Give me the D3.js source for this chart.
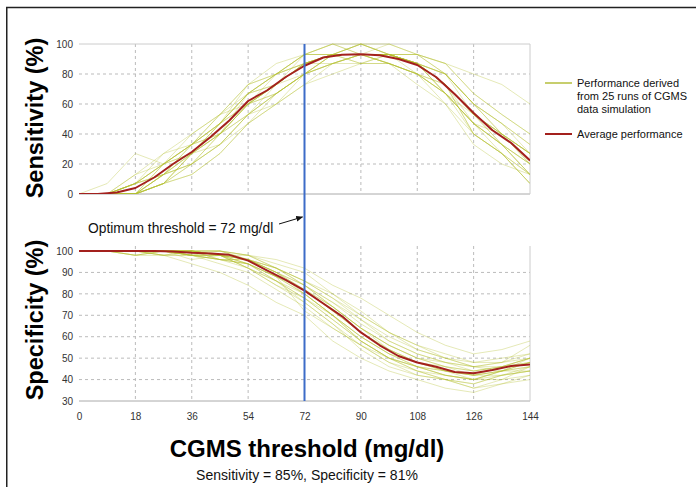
<!DOCTYPE html>
<html>
<head>
<meta charset="utf-8">
<script src="https://cdn.jsdelivr.net/npm/d3@7"></script>
<style>
  body { margin: 0; background: white; }
  svg { font-family: "Liberation Sans", Arial, Helvetica, sans-serif; }
</style>
</head>
<body>
<svg width="696" height="487"></svg>
<script>
// thresholds (mg/dl) used by the individual simulation runs
const runThresholds = [0, 9, 18, 27, 36, 45, 54, 63, 72, 81, 90, 99, 108, 117, 126, 135, 144]
// thresholds used by the average curve
const avgThresholds = [0, 6, 12, 18, 24, 30, 36, 42, 48, 54, 60, 66, 72, 78, 84, 90, 96, 102, 108, 114, 120, 126, 132, 138, 144]

const sensitivityAverage = [0, 0, 1, 4, 11, 20, 28, 38, 49, 62, 69, 78, 85.5, 91, 92.8, 93.2, 92.5, 90, 86, 78, 66.5, 54, 42.5, 34, 22.4]
const specificityAverage = [100, 100, 100, 100, 100, 99.8, 99.2, 98.8, 98.2, 95.5, 91, 86.5, 81.5, 75.5, 69.5, 62, 56, 51, 48, 46, 43.5, 43, 44.5, 46.3, 47]

const sensitivityRuns = [
    [0, 0, 0, 13, 27, 40, 60, 73, 87, 93, 93, 93, 87, 80, 60, 40, 20],
    [0, 0, 7, 20, 33, 47, 67, 80, 93, 100, 100, 93, 87, 73, 47, 33, 13],
    [0, 0, 0, 7, 20, 33, 53, 67, 80, 87, 93, 93, 87, 73, 53, 40, 27],
    [0, 0, 13, 27, 40, 53, 67, 73, 87, 93, 93, 87, 80, 67, 47, 33, 20],
    [0, 0, 0, 7, 13, 27, 47, 60, 73, 87, 93, 100, 93, 80, 60, 47, 33],
    [0, 0, 7, 13, 27, 47, 67, 80, 93, 93, 100, 93, 87, 73, 40, 27, 7],
    [0, 7, 27, 20, 33, 40, 53, 67, 80, 93, 87, 87, 80, 67, 53, 40, 20],
    [0, 0, 0, 13, 20, 40, 60, 73, 87, 93, 93, 87, 80, 60, 33, 20, 13],
    [0, 0, 7, 20, 27, 33, 53, 60, 73, 80, 87, 93, 93, 87, 67, 53, 40],
    [0, 0, 0, 7, 27, 47, 67, 80, 93, 100, 93, 93, 87, 80, 53, 33, 13],
    [0, 0, 0, 20, 40, 53, 73, 87, 93, 93, 93, 87, 73, 60, 40, 27, 13],
    [0, 0, 7, 13, 20, 33, 47, 60, 80, 87, 93, 93, 93, 80, 60, 47, 27],
    [0, 0, 0, 7, 27, 40, 60, 67, 80, 93, 100, 100, 93, 87, 67, 53, 40],
    [0, 0, 0, 13, 33, 53, 73, 80, 87, 93, 93, 87, 80, 67, 47, 27, 7],
    [0, 0, 7, 27, 33, 47, 60, 73, 87, 87, 87, 93, 87, 73, 53, 40, 27],
    [0, 0, 0, 7, 13, 27, 47, 67, 80, 93, 93, 93, 87, 80, 60, 47, 33],
    [0, 0, 13, 20, 33, 47, 60, 73, 87, 93, 100, 93, 87, 67, 40, 27, 13],
    [0, 0, 0, 13, 27, 40, 53, 73, 93, 100, 93, 87, 80, 73, 53, 40, 27],
    [0, 0, 7, 13, 20, 40, 60, 80, 87, 93, 93, 93, 93, 87, 80, 73, 60],
    [0, 0, 0, 7, 27, 40, 67, 73, 80, 87, 93, 93, 87, 67, 47, 33, 20],
    [0, 0, 0, 20, 27, 47, 73, 80, 87, 93, 93, 93, 87, 73, 40, 27, 7],
    [0, 0, 7, 20, 33, 40, 60, 67, 80, 87, 93, 93, 87, 80, 60, 40, 27],
    [0, 0, 0, 13, 33, 53, 60, 73, 87, 93, 87, 87, 80, 73, 53, 33, 20],
    [0, 0, 0, 7, 20, 33, 53, 67, 80, 93, 100, 93, 87, 67, 47, 33, 13],
    [0, 0, 7, 20, 33, 47, 67, 80, 93, 93, 93, 93, 80, 67, 47, 40, 27]
]

const specificityRuns = [
    [100, 100, 100, 100, 98, 98, 96, 90, 82, 74, 64, 56, 50, 46, 42, 44, 46],
    [100, 100, 100, 98, 100, 96, 94, 86, 78, 70, 60, 52, 46, 42, 40, 44, 50],
    [100, 100, 98, 100, 100, 100, 98, 92, 86, 78, 68, 58, 52, 48, 46, 48, 52],
    [100, 100, 100, 100, 96, 98, 92, 84, 76, 66, 56, 48, 42, 40, 38, 42, 44],
    [100, 100, 100, 100, 100, 98, 96, 92, 86, 80, 70, 62, 56, 50, 46, 44, 48],
    [100, 100, 100, 98, 98, 94, 90, 82, 74, 64, 56, 50, 46, 44, 40, 40, 42],
    [100, 100, 100, 100, 100, 100, 98, 96, 92, 84, 78, 70, 62, 56, 52, 54, 58],
    [100, 100, 98, 100, 98, 96, 96, 88, 80, 70, 58, 50, 44, 40, 38, 42, 46],
    [100, 100, 100, 100, 100, 98, 94, 88, 82, 74, 64, 56, 50, 46, 44, 46, 48],
    [100, 100, 100, 100, 98, 98, 92, 86, 76, 66, 54, 46, 42, 40, 36, 38, 40],
    [100, 100, 100, 100, 100, 100, 98, 92, 84, 76, 68, 60, 54, 50, 48, 50, 52],
    [100, 100, 100, 98, 94, 90, 84, 76, 70, 58, 50, 44, 40, 36, 34, 38, 42],
    [100, 100, 100, 100, 100, 98, 96, 90, 84, 76, 66, 58, 52, 48, 44, 46, 50],
    [100, 100, 100, 100, 98, 98, 94, 88, 80, 70, 60, 52, 46, 44, 42, 44, 48],
    [100, 100, 100, 100, 100, 96, 96, 92, 86, 78, 70, 62, 56, 52, 48, 48, 50],
    [100, 100, 98, 98, 100, 98, 92, 84, 78, 68, 58, 50, 46, 42, 40, 44, 44],
    [100, 100, 100, 100, 98, 100, 96, 90, 82, 72, 62, 54, 48, 44, 42, 46, 50],
    [100, 100, 100, 100, 100, 98, 98, 94, 90, 80, 72, 62, 54, 50, 46, 48, 56],
    [100, 100, 100, 100, 98, 96, 94, 86, 80, 70, 60, 52, 48, 44, 42, 44, 46],
    [100, 100, 100, 100, 100, 100, 96, 90, 84, 74, 64, 54, 48, 46, 44, 46, 50],
    [100, 100, 100, 98, 98, 96, 92, 86, 78, 68, 58, 50, 44, 42, 40, 42, 44],
    [100, 100, 100, 100, 100, 98, 96, 92, 84, 74, 64, 56, 50, 48, 46, 46, 48],
    [100, 100, 100, 100, 98, 98, 94, 88, 82, 72, 62, 54, 48, 44, 42, 42, 44],
    [100, 100, 100, 100, 100, 98, 96, 90, 80, 70, 58, 50, 46, 42, 40, 44, 48],
    [100, 100, 98, 100, 98, 96, 94, 88, 72, 64, 56, 48, 44, 40, 36, 40, 46]
]

const xTicks = [0, 18, 36, 54, 72, 90, 108, 126, 144]
const sensTicks = [0, 20, 40, 60, 80, 100]
const specTicks = [30, 40, 50, 60, 70, 80, 90, 100]
const optimumThreshold = 72

const runColor = "rgba(180, 190, 45, 0.38)"
const legendRunColor = "#b4be3c"
const avgColor = "#a3201d"

const xScale = d3.scaleLinear().domain([0, 144]).range([79, 530])
const sensScale = d3.scaleLinear().domain([0, 100]).range([194, 44])
const specScale = d3.scaleLinear().domain([30, 100]).range([401, 251])

function drawFrame(){
    const svg = d3.select("svg")
    svg.append("line")
        .attr("x1", 6).attr("y1", 7.5).attr("x2", 696).attr("y2", 7.5)
        .attr("stroke", "#222").attr("stroke-width", 1.5)
    svg.append("line")
        .attr("x1", 6.75).attr("y1", 7).attr("x2", 6.75).attr("y2", 487)
        .attr("stroke", "#222").attr("stroke-width", 1.5)
}

function drawGrid(yScale, ticks, id, topLine){
    const g = d3.select("svg").append("g").attr("id", id + "Grid")
    const [y0, y1] = yScale.domain()

    g.selectAll("line.h")
        .data(ticks.filter(t => t != y0 && t != y1))
        .enter()
        .append("line")
        .attr("class", "h")
        .attr("x1", xScale(0)).attr("x2", xScale(144))
        .attr("y1", d => yScale(d)).attr("y2", d => yScale(d))
        .attr("stroke", "#bbb")
        .attr("stroke-dasharray", "3,3")

    g.selectAll("line.v")
        .data(xTicks.filter(t => t != 0 && t != 144))
        .enter()
        .append("line")
        .attr("class", "v")
        .attr("x1", d => xScale(d)).attr("x2", d => xScale(d))
        .attr("y1", yScale(y1) - (topLine ? 0 : 5)).attr("y2", yScale(y0))
        .attr("stroke", "#bbb")
        .attr("stroke-dasharray", "3,3")

    if (topLine) {
        g.append("line")
            .attr("x1", xScale(0)).attr("x2", xScale(144))
            .attr("y1", yScale(y1)).attr("y2", yScale(y1))
            .attr("stroke", "#ccc")
    }
    g.append("line")
        .attr("x1", xScale(0)).attr("x2", xScale(144))
        .attr("y1", yScale(y0)).attr("y2", yScale(y0))
        .attr("stroke", "#aaa")
    g.append("line")
        .attr("x1", xScale(144)).attr("x2", xScale(144))
        .attr("y1", yScale(y1) - (topLine ? 0 : 5)).attr("y2", yScale(y0))
        .attr("stroke", "#ccc")
}

function drawCurves(yScale, runs, average, id){
    const svg = d3.select("svg")
    const [y0, y1] = yScale.domain()

    svg.append("clipPath")
        .attr("id", id + "Clip")
        .append("rect")
        .attr("x", xScale(0))
        .attr("y", yScale(y1) - 1)
        .attr("width", xScale(144) - xScale(0))
        .attr("height", yScale(y0) - yScale(y1) + 1)

    const runLine = d3.line()
        .x((d, i) => xScale(runThresholds[i]))
        .y(d => yScale(d))

    const avgLine = d3.line()
        .x((d, i) => xScale(avgThresholds[i]))
        .y(d => yScale(d))

    const g = svg.append("g").attr("clip-path", "url(#" + id + "Clip)")

    g.selectAll("path.run")
        .data(runs)
        .enter()
        .append("path")
        .attr("class", "run")
        .attr("d", d => runLine(d))
        .attr("fill", "none")
        .attr("stroke", runColor)
        .attr("stroke-width", 0.9)

    g.append("path")
        .attr("d", avgLine(average))
        .attr("fill", "none")
        .attr("stroke", avgColor)
        .attr("stroke-width", 2)
        .attr("stroke-linejoin", "round")
}

function addAxes(){
    const sensAxis = d3.axisLeft(sensScale).tickValues(sensTicks).tickSize(0).tickPadding(6)
    const specAxis = d3.axisLeft(specScale).tickValues(specTicks).tickSize(0).tickPadding(6)
    const xAxis = d3.axisBottom(xScale).tickValues(xTicks).tickSize(0).tickPadding(12)

    const svg = d3.select("svg")
    svg.append("g").attr("id", "sensAxisG").attr("transform", "translate(79, 0)").call(sensAxis)
    svg.append("g").attr("id", "specAxisG").attr("transform", "translate(79, 0)").call(specAxis)
    svg.append("g").attr("id", "xAxisG").attr("transform", "translate(0, 401)").call(xAxis)

    svg.selectAll("path.domain").style("display", "none")
    svg.selectAll(".tick text")
        .attr("font-family", "Liberation Sans, Arial, sans-serif")
        .attr("font-size", 10)
        .attr("fill", "#333")

    svg.append("text")
        .attr("transform", "translate(43, 118) rotate(-90)")
        .attr("text-anchor", "middle")
        .attr("font-size", 23.5)
        .attr("font-weight", "bold")
        .text("Sensitivity (%)")

    svg.append("text")
        .attr("transform", "translate(43, 320) rotate(-90)")
        .attr("text-anchor", "middle")
        .attr("font-size", 23.5)
        .attr("font-weight", "bold")
        .text("Specificity (%)")

    svg.append("text")
        .attr("x", 307).attr("y", 457)
        .attr("text-anchor", "middle")
        .attr("font-size", 24)
        .attr("font-weight", "bold")
        .text("CGMS threshold (mg/dl)")

    svg.append("text")
        .attr("x", 307).attr("y", 480)
        .attr("text-anchor", "middle")
        .attr("font-size", 14)
        .attr("fill", "#111")
        .text("Sensitivity = 85%, Specificity = 81%")
}

function addThreshold(){
    const svg = d3.select("svg")

    svg.append("defs")
        .append("marker")
        .attr("id", "arrow")
        .attr("viewBox", "0 0 10 10")
        .attr("refX", 9).attr("refY", 5)
        .attr("markerWidth", 7).attr("markerHeight", 7)
        .attr("orient", "auto")
        .append("path")
        .attr("d", "M0,1 L10,5 L0,9 Z")
        .attr("fill", "#111")

    svg.append("line")
        .attr("x1", xScale(optimumThreshold)).attr("x2", xScale(optimumThreshold))
        .attr("y1", sensScale(100)).attr("y2", specScale(30))
        .attr("stroke", "#3d6cc8")
        .attr("stroke-width", 2)

    svg.append("text")
        .attr("x", 88).attr("y", 233)
        .attr("font-size", 13.8)
        .attr("fill", "#111")
        .text("Optimum threshold = " + optimumThreshold + " mg/dl")

    svg.append("line")
        .attr("x1", 279).attr("y1", 224)
        .attr("x2", xScale(optimumThreshold) - 2).attr("y2", 217)
        .attr("stroke", "#111")
        .attr("stroke-width", 1)
        .attr("marker-end", "url(#arrow)")
}

function addLegend(){
    const svg = d3.select("svg")
    const items = [
        { color: legendRunColor, y: 83, lines: ["Performance derived", "from 25 runs of CGMS", "data simulation"] },
        { color: avgColor, y: 134, lines: ["Average performance"] }
    ]
    items.forEach(item => {
        svg.append("line")
            .attr("x1", 545).attr("x2", 572)
            .attr("y1", item.y).attr("y2", item.y)
            .attr("stroke", item.color)
            .attr("stroke-width", item.color == avgColor ? 2 : 1.5)
        item.lines.forEach((t, i) => {
            svg.append("text")
                .attr("x", 577).attr("y", item.y + i * 13.2 + 3.8)
                .attr("font-size", 11)
                .attr("fill", "#111")
                .text(t)
        })
    })
}

drawFrame()
drawGrid(sensScale, sensTicks, "sens", true)
drawGrid(specScale, specTicks, "spec", false)
drawCurves(sensScale, sensitivityRuns, sensitivityAverage, "sens")
drawCurves(specScale, specificityRuns, specificityAverage, "spec")
addAxes()
addThreshold()
addLegend()
</script>
</body>
</html>
